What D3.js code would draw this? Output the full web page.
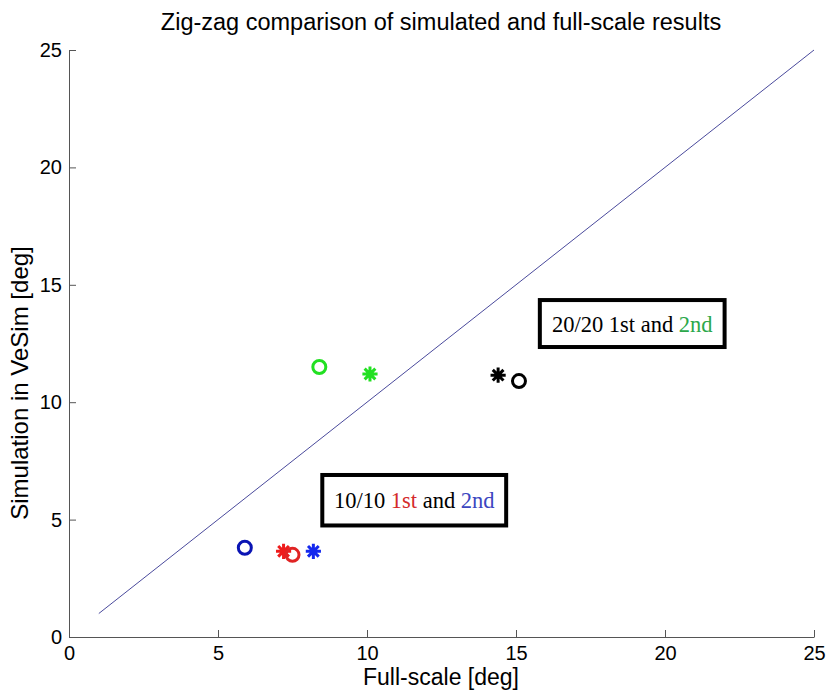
<!DOCTYPE html>
<html>
<head>
<meta charset="utf-8">
<script src="https://cdn.jsdelivr.net/npm/d3@7"></script>
<style>
body { margin: 0; background: #fff; }
.axis text { font-family: "Liberation Sans", Arial, sans-serif; font-size: 20px; fill: #000; }
.axis path, .axis line { stroke: #555; }
</style>
</head>
<body>
<div id="chart"></div>
<script>
let width = 828, height = 691;
let margins = { top: 50, right: 14, bottom: 54, left: 69 };

let xTicks = [0, 5, 10, 15, 20, 25];
let yTicks = [0, 5, 10, 15, 20, 25];

// [full-scale, simulated, colour, marker]
let points = [
    [5.9, 3.8, "#0a14b4", "circle"],
    [7.2, 3.65, "#ee1c1c", "star"],
    [7.5, 3.5, "#e02424", "circle"],
    [8.2, 3.65, "#1428ee", "star"],
    [8.4, 11.5, "#22e022", "circle"],
    [10.1, 11.2, "#22e022", "star"],
    [14.4, 11.15, "#000000", "star"],
    [15.1, 10.9, "#000000", "circle"]
];
let refLine = [[1, 1], [25, 25]];

// label boxes in data coordinates: x0, x1, yTop, yBottom
let boxes = [
    { x0: 15.8, x1: 22.0, y0: 14.35, y1: 12.35,
      parts: [["20/20 1st and ", "#000"], ["2nd", "#2ca84a"]] },
    { x0: 8.5, x1: 14.67, y0: 6.9, y1: 4.75,
      parts: [["10/10 ", "#000"], ["1st", "#d42a2a"], [" and ", "#000"], ["2nd", "#3c46c0"]] }
];

let w = width - margins.left - margins.right;
let h = height - margins.top - margins.bottom;

let svg = d3.select("#chart").append("svg")
    .attr("width", width).attr("height", height);
let g = svg.append("g")
    .attr("transform", "translate(" + margins.left + "," + margins.top + ")");

let x = d3.scaleLinear().domain([0, 25]).range([0, w]);
let y = d3.scaleLinear().domain([0, 25]).range([h, 0]);

g.append("g").attr("class", "axis")
    .attr("transform", "translate(0," + h + ")")
    .call(d3.axisBottom(x).tickValues(xTicks).tickSize(-7).tickSizeOuter(0).tickPadding(9));
g.append("g").attr("class", "axis")
    .call(d3.axisLeft(y).tickValues(yTicks).tickSize(-7).tickSizeOuter(0).tickPadding(7));

// reference line
g.append("line")
    .attr("x1", x(refLine[0][0])).attr("y1", y(refLine[0][1]))
    .attr("x2", x(refLine[1][0])).attr("y2", y(refLine[1][1]))
    .attr("stroke", "#4a4a9c").attr("stroke-width", 1);

// matlab-like '*' marker: plus and cross
let asterisk8 = {
    draw: function (context, size) {
        let r = Math.sqrt(size) / 2;
        for (let i = 0; i < 4; i++) {
            let a = i * Math.PI / 4;
            context.moveTo(-r * Math.cos(a), -r * Math.sin(a));
            context.lineTo(r * Math.cos(a), r * Math.sin(a));
        }
    }
};
let star = d3.symbol().type(asterisk8).size(230);
points.forEach(function (p) {
    if (p[3] === "circle") {
        g.append("circle")
            .attr("cx", x(p[0])).attr("cy", y(p[1])).attr("r", 6.5)
            .attr("fill", "none").attr("stroke", p[2]).attr("stroke-width", 3);
    } else {
        g.append("path")
            .attr("d", star())
            .attr("transform", "translate(" + x(p[0]) + "," + y(p[1]) + ")")
            .attr("fill", "none").attr("stroke", p[2]).attr("stroke-width", 3);
    }
});

boxes.forEach(function (b) {
    g.append("rect")
        .attr("x", x(b.x0)).attr("y", y(b.y0))
        .attr("width", x(b.x1) - x(b.x0)).attr("height", y(b.y1) - y(b.y0))
        .attr("fill", "#fff").attr("stroke", "#000").attr("stroke-width", 4);
    let t = g.append("text")
        .attr("x", (x(b.x0) + x(b.x1)) / 2)
        .attr("y", (y(b.y0) + y(b.y1)) / 2 + 8)
        .attr("text-anchor", "middle")
        .style("font-family", "'Liberation Serif', 'Times New Roman', serif")
        .style("font-size", "22.5px");
    b.parts.forEach(function (pt) {
        t.append("tspan").attr("fill", pt[1]).text(pt[0]);
    });
});

svg.append("text")
    .attr("x", 441).attr("y", 30)
    .attr("text-anchor", "middle")
    .style("font-family", "'Liberation Sans', Arial, sans-serif").style("font-size", "23.5px")
    .text("Zig-zag comparison of simulated and full-scale results");
svg.append("text")
    .attr("x", 441).attr("y", 685)
    .attr("text-anchor", "middle")
    .style("font-family", "'Liberation Sans', Arial, sans-serif").style("font-size", "23px")
    .text("Full-scale [deg]");
svg.append("text")
    .attr("transform", "translate(28,383) rotate(-90)")
    .attr("text-anchor", "middle")
    .style("font-family", "'Liberation Sans', Arial, sans-serif").style("font-size", "24px")
    .text("Simulation in VeSim [deg]");
</script>
</body>
</html>
